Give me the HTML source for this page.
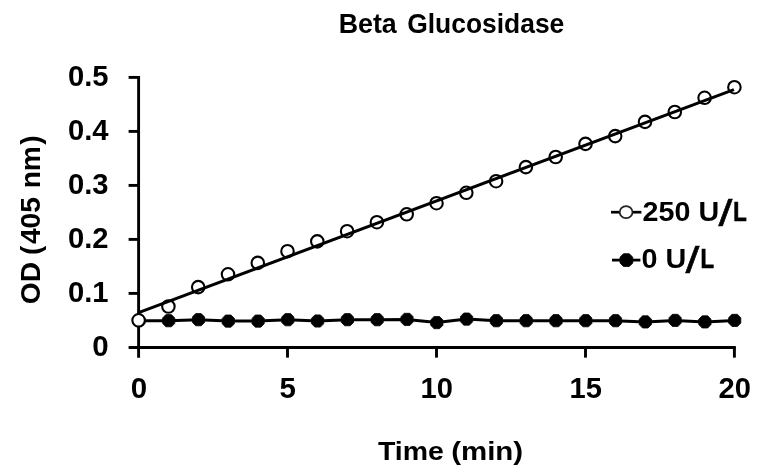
<!DOCTYPE html>
<html><head><meta charset="utf-8"><title>Beta Glucosidase</title>
<style>
html,body{margin:0;padding:0;background:#fff;}
body{width:767px;height:474px;overflow:hidden;}
svg{display:block;}
text{font-family:"Liberation Sans",sans-serif;font-weight:bold;fill:#000;}
</style></head><body>
<svg width="767" height="474" viewBox="0 0 767 474">
<rect width="767" height="474" fill="#fff"/>
<text font-size="27.2" y="33.2"><tspan x="338.7" textLength="58.1" lengthAdjust="spacingAndGlyphs">Beta</tspan> <tspan x="407.2" textLength="157.1" lengthAdjust="spacingAndGlyphs">Glucosidase</tspan></text>
<g stroke="#000" stroke-width="2.9" fill="none" stroke-linecap="butt">
<line x1="138.6" y1="75.95" x2="138.6" y2="357.65"/>
<line x1="128.6" y1="347.45" x2="735.85" y2="347.45"/>
<line x1="128.6" y1="293.4" x2="138.6" y2="293.4"/>
<line x1="128.6" y1="239.4" x2="138.6" y2="239.4"/>
<line x1="128.6" y1="185.4" x2="138.6" y2="185.4"/>
<line x1="128.6" y1="131.4" x2="138.6" y2="131.4"/>
<line x1="128.6" y1="77.4" x2="138.6" y2="77.4"/>
<line x1="287.5" y1="347.45" x2="287.5" y2="357.65"/>
<line x1="436.5" y1="347.45" x2="436.5" y2="357.65"/>
<line x1="585.5" y1="347.45" x2="585.5" y2="357.65"/>
<line x1="734.4" y1="347.45" x2="734.4" y2="357.65"/>
</g>
<text x="108.6" y="355.9" font-size="28.8" text-anchor="end" textLength="16.4" lengthAdjust="spacingAndGlyphs">0</text>
<text x="108.6" y="301.9" font-size="28.8" text-anchor="end" textLength="40.6" lengthAdjust="spacingAndGlyphs">0.1</text>
<text x="108.6" y="247.9" font-size="28.8" text-anchor="end" textLength="40.6" lengthAdjust="spacingAndGlyphs">0.2</text>
<text x="108.6" y="193.9" font-size="28.8" text-anchor="end" textLength="40.6" lengthAdjust="spacingAndGlyphs">0.3</text>
<text x="108.6" y="139.9" font-size="28.8" text-anchor="end" textLength="40.6" lengthAdjust="spacingAndGlyphs">0.4</text>
<text x="108.6" y="85.9" font-size="28.8" text-anchor="end" textLength="40.6" lengthAdjust="spacingAndGlyphs">0.5</text>
<text x="138.9" y="397.5" font-size="28.8" text-anchor="middle" textLength="16.4" lengthAdjust="spacingAndGlyphs">0</text>
<text x="287.8" y="397.5" font-size="28.8" text-anchor="middle" textLength="16.4" lengthAdjust="spacingAndGlyphs">5</text>
<text x="436.8" y="397.5" font-size="28.8" text-anchor="middle" textLength="32.4" lengthAdjust="spacingAndGlyphs">10</text>
<text x="585.8" y="397.5" font-size="28.8" text-anchor="middle" textLength="32.4" lengthAdjust="spacingAndGlyphs">15</text>
<text x="734.7" y="397.5" font-size="28.8" text-anchor="middle" textLength="32.4" lengthAdjust="spacingAndGlyphs">20</text>
<text font-size="26.6" y="459.9"><tspan x="378.0" textLength="65.9" lengthAdjust="spacingAndGlyphs">Time</tspan> <tspan x="451.2" textLength="72.0" lengthAdjust="spacingAndGlyphs">(min)</tspan></text>
<text transform="translate(40.4,303.6) rotate(-90)" font-size="28.2" dx="-0.7 0 0 -0.8 1.5 0 0 0 0.8 0 1.2">OD (405 nm)</text>
<polyline points="138.9,320.7 168.7,320.7 198.5,319.7 228.3,321.1 258.1,321.1 287.8,319.7 317.6,321.0 347.4,319.7 377.2,319.7 407.0,319.4 436.8,322.6 466.6,319.1 496.4,320.7 526.2,320.7 556.0,320.7 585.8,320.7 615.5,320.7 645.3,321.9 675.1,320.4 704.9,321.9 734.7,320.4" fill="none" stroke="#000" stroke-width="3.0" stroke-linejoin="round"/>
<polygon points="136.2,314.6 141.6,314.6 145.0,318.0 145.0,323.4 141.6,326.8 136.2,326.8 132.8,323.4 132.8,318.0" fill="#000" stroke="#000" stroke-width="0.8" stroke-linejoin="round"/>
<polygon points="165.9,314.6 171.4,314.6 174.8,318.0 174.8,323.4 171.4,326.8 165.9,326.8 162.6,323.4 162.6,318.0" fill="#000" stroke="#000" stroke-width="0.8" stroke-linejoin="round"/>
<polygon points="195.7,313.6 201.2,313.6 204.6,317.0 204.6,322.4 201.2,325.8 195.7,325.8 192.4,322.4 192.4,317.0" fill="#000" stroke="#000" stroke-width="0.8" stroke-linejoin="round"/>
<polygon points="225.5,315.0 231.0,315.0 234.4,318.4 234.4,323.8 231.0,327.2 225.5,327.2 222.2,323.8 222.2,318.4" fill="#000" stroke="#000" stroke-width="0.8" stroke-linejoin="round"/>
<polygon points="255.3,315.0 260.8,315.0 264.2,318.4 264.2,323.8 260.8,327.2 255.3,327.2 252.0,323.8 252.0,318.4" fill="#000" stroke="#000" stroke-width="0.8" stroke-linejoin="round"/>
<polygon points="285.1,313.6 290.6,313.6 293.9,317.0 293.9,322.4 290.6,325.8 285.1,325.8 281.7,322.4 281.7,317.0" fill="#000" stroke="#000" stroke-width="0.8" stroke-linejoin="round"/>
<polygon points="314.9,314.9 320.4,314.9 323.7,318.3 323.7,323.7 320.4,327.1 314.9,327.1 311.5,323.7 311.5,318.3" fill="#000" stroke="#000" stroke-width="0.8" stroke-linejoin="round"/>
<polygon points="344.7,313.6 350.2,313.6 353.5,317.0 353.5,322.4 350.2,325.8 344.7,325.8 341.3,322.4 341.3,317.0" fill="#000" stroke="#000" stroke-width="0.8" stroke-linejoin="round"/>
<polygon points="374.5,313.6 380.0,313.6 383.3,317.0 383.3,322.4 380.0,325.8 374.5,325.8 371.1,322.4 371.1,317.0" fill="#000" stroke="#000" stroke-width="0.8" stroke-linejoin="round"/>
<polygon points="404.3,313.3 409.8,313.3 413.1,316.7 413.1,322.1 409.8,325.5 404.3,325.5 400.9,322.1 400.9,316.7" fill="#000" stroke="#000" stroke-width="0.8" stroke-linejoin="round"/>
<polygon points="434.1,316.5 439.5,316.5 442.9,319.9 442.9,325.3 439.5,328.7 434.1,328.7 430.7,325.3 430.7,319.9" fill="#000" stroke="#000" stroke-width="0.8" stroke-linejoin="round"/>
<polygon points="463.8,313.0 469.3,313.0 472.7,316.4 472.7,321.8 469.3,325.2 463.8,325.2 460.5,321.8 460.5,316.4" fill="#000" stroke="#000" stroke-width="0.8" stroke-linejoin="round"/>
<polygon points="493.6,314.6 499.1,314.6 502.5,318.0 502.5,323.4 499.1,326.8 493.6,326.8 490.3,323.4 490.3,318.0" fill="#000" stroke="#000" stroke-width="0.8" stroke-linejoin="round"/>
<polygon points="523.4,314.6 528.9,314.6 532.3,318.0 532.3,323.4 528.9,326.8 523.4,326.8 520.1,323.4 520.1,318.0" fill="#000" stroke="#000" stroke-width="0.8" stroke-linejoin="round"/>
<polygon points="553.2,314.6 558.7,314.6 562.1,318.0 562.1,323.4 558.7,326.8 553.2,326.8 549.9,323.4 549.9,318.0" fill="#000" stroke="#000" stroke-width="0.8" stroke-linejoin="round"/>
<polygon points="583.0,314.6 588.5,314.6 591.9,318.0 591.9,323.4 588.5,326.8 583.0,326.8 579.6,323.4 579.6,318.0" fill="#000" stroke="#000" stroke-width="0.8" stroke-linejoin="round"/>
<polygon points="612.8,314.6 618.3,314.6 621.6,318.0 621.6,323.4 618.3,326.8 612.8,326.8 609.4,323.4 609.4,318.0" fill="#000" stroke="#000" stroke-width="0.8" stroke-linejoin="round"/>
<polygon points="642.6,315.8 648.1,315.8 651.4,319.2 651.4,324.6 648.1,328.0 642.6,328.0 639.2,324.6 639.2,319.2" fill="#000" stroke="#000" stroke-width="0.8" stroke-linejoin="round"/>
<polygon points="672.4,314.3 677.9,314.3 681.2,317.7 681.2,323.1 677.9,326.5 672.4,326.5 669.0,323.1 669.0,317.7" fill="#000" stroke="#000" stroke-width="0.8" stroke-linejoin="round"/>
<polygon points="702.2,315.8 707.7,315.8 711.0,319.2 711.0,324.6 707.7,328.0 702.2,328.0 698.8,324.6 698.8,319.2" fill="#000" stroke="#000" stroke-width="0.8" stroke-linejoin="round"/>
<polygon points="732.0,314.3 737.4,314.3 740.8,317.7 740.8,323.1 737.4,326.5 732.0,326.5 728.6,323.1 728.6,317.7" fill="#000" stroke="#000" stroke-width="0.8" stroke-linejoin="round"/>
<circle cx="138.6" cy="320.3" r="6.25" fill="#fff" stroke="#000" stroke-width="2.1"/>
<circle cx="168.4" cy="306.5" r="6.25" fill="#fff" stroke="#000" stroke-width="2.1"/>
<circle cx="198.2" cy="287.1" r="6.25" fill="#fff" stroke="#000" stroke-width="2.1"/>
<circle cx="228.0" cy="274.3" r="6.25" fill="#fff" stroke="#000" stroke-width="2.1"/>
<circle cx="257.8" cy="262.9" r="6.25" fill="#fff" stroke="#000" stroke-width="2.1"/>
<circle cx="287.5" cy="251.2" r="6.25" fill="#fff" stroke="#000" stroke-width="2.1"/>
<circle cx="317.3" cy="241.4" r="6.25" fill="#fff" stroke="#000" stroke-width="2.1"/>
<circle cx="347.1" cy="231.2" r="6.25" fill="#fff" stroke="#000" stroke-width="2.1"/>
<circle cx="376.9" cy="222.2" r="6.25" fill="#fff" stroke="#000" stroke-width="2.1"/>
<circle cx="406.7" cy="214.3" r="6.25" fill="#fff" stroke="#000" stroke-width="2.1"/>
<circle cx="436.5" cy="203.2" r="6.25" fill="#fff" stroke="#000" stroke-width="2.1"/>
<circle cx="466.3" cy="192.8" r="6.25" fill="#fff" stroke="#000" stroke-width="2.1"/>
<circle cx="496.1" cy="181.2" r="6.25" fill="#fff" stroke="#000" stroke-width="2.1"/>
<circle cx="525.9" cy="167.1" r="6.25" fill="#fff" stroke="#000" stroke-width="2.1"/>
<circle cx="555.7" cy="157.0" r="6.25" fill="#fff" stroke="#000" stroke-width="2.1"/>
<circle cx="585.5" cy="143.9" r="6.25" fill="#fff" stroke="#000" stroke-width="2.1"/>
<circle cx="615.2" cy="136.1" r="6.25" fill="#fff" stroke="#000" stroke-width="2.1"/>
<circle cx="645.0" cy="121.9" r="6.25" fill="#fff" stroke="#000" stroke-width="2.1"/>
<circle cx="674.8" cy="112.0" r="6.25" fill="#fff" stroke="#000" stroke-width="2.1"/>
<circle cx="704.6" cy="97.8" r="6.25" fill="#fff" stroke="#000" stroke-width="2.1"/>
<circle cx="734.4" cy="87.2" r="6.25" fill="#fff" stroke="#000" stroke-width="2.1"/>
<line x1="138.6" y1="312.6" x2="733.9" y2="89.6" stroke="#000" stroke-width="3.0" stroke-linecap="butt"/>
<line x1="611" y1="212.2" x2="641.4" y2="212.2" stroke="#000" stroke-width="2.7"/>
<ellipse cx="626.1" cy="212.2" rx="6.4" ry="6.0" fill="#fff" stroke="#222" stroke-width="1.8"/>
<text font-size="27.2" y="221.1"><tspan x="642.6" textLength="76.6" lengthAdjust="spacingAndGlyphs">250 U</tspan><tspan x="718.4" y="225.9" font-size="36.5" font-weight="normal" stroke="#000" stroke-width="0.5" textLength="13.9" lengthAdjust="spacingAndGlyphs">/</tspan><tspan x="733.3" y="221.0" stroke="#000" stroke-width="0.7" textLength="13.5" lengthAdjust="spacingAndGlyphs">L</tspan></text>
<line x1="612" y1="260.1" x2="640.4" y2="260.1" stroke="#000" stroke-width="2.8"/>
<polygon points="623.5,253.7 629.3,253.7 632.8,257.2 632.8,263.0 629.3,266.5 623.5,266.5 620.0,263.0 620.0,257.2" fill="#000" stroke="#000" stroke-width="0.8" stroke-linejoin="round"/>
<text font-size="27.2" y="268.0"><tspan x="641.6" textLength="44.8" lengthAdjust="spacingAndGlyphs">0 U</tspan><tspan x="685.4" y="272.8" font-size="36.5" font-weight="normal" stroke="#000" stroke-width="0.5" textLength="13.9" lengthAdjust="spacingAndGlyphs">/</tspan><tspan x="700.4" y="267.9" stroke="#000" stroke-width="0.7" textLength="13.5" lengthAdjust="spacingAndGlyphs">L</tspan></text>
</svg></body></html>
